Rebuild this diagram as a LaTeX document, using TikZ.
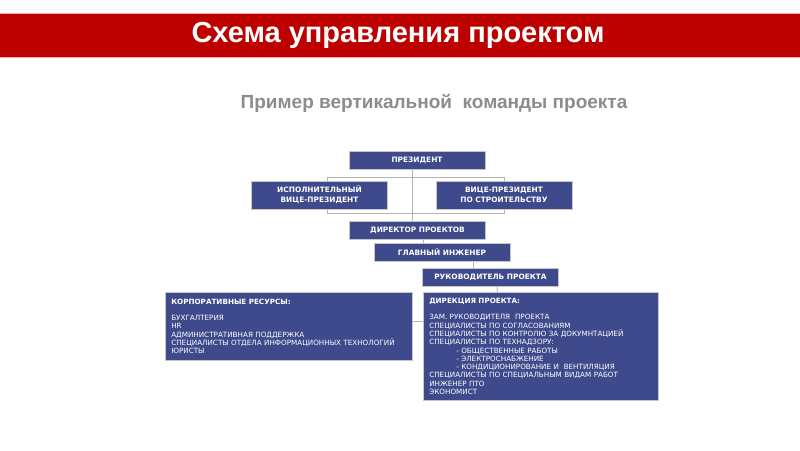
\documentclass[tikz,border=0pt]{standalone}
\usepackage{fontspec}
\usepackage{xcolor}
\usepackage{tikz}
\usetikzlibrary{positioning, backgrounds}
\newfontfamily\headfont{Liberation Sans}
\newfontfamily\boxfont{DejaVu Sans}
\definecolor{bannerred}{HTML}{BC0000}
\definecolor{boxblue}{HTML}{3E4A8C}
\definecolor{subgray}{HTML}{8C8C8C}
\definecolor{linkgray}{HTML}{B4B4B4}

\begin{document}
\begin{tikzpicture}[x=1pt, y=-1pt,
    role/.style  = {rectangle, draw=gray!45, line width=0.6pt, fill=boxblue,
                    text=white, align=center, inner sep=0pt,
                    minimum width=136pt, minimum height=18pt,
                    font=\boxfont\bfseries\fontsize{7.4}{10}\selectfont},
    team/.style  = {rectangle, draw=gray!45, line width=0.6pt, fill=boxblue,
                    text=white, align=left, anchor=north west,
                    inner xsep=6pt, inner ysep=4.5pt,
                    font=\boxfont\fontsize{7.2}{8.3}\selectfont},
    link/.style  = {draw=linkgray, line width=0.9pt},
    title/.style = {text=white, font=\headfont\bfseries\fontsize{29}{31}\selectfont},
    sub/.style   = {text=subgray, font=\headfont\bfseries\fontsize{19}{21}\selectfont}
  ]
  \useasboundingbox (0,0) rectangle (800,450);

  % Banner
  \fill[bannerred] (0,13) rectangle (800,57);
  \draw[red!35, line width=0.8pt] (0,13) -- (800,13) (0,57) -- (800,57);
  \node[title] (head) at (398,35) {Схема управления проектом};
  \node[sub]   (subhead) at (434,103) {Пример вертикальной\ \ команды проекта};

  % Top management
  \node[role] (president) at (417,160.5) {ПРЕЗИДЕНТ};
  \node[role, minimum height=28pt] (vpexec)  at (319.5,195) {ИСПОЛНИТЕЛЬНЫЙ\\ВИЦЕ-ПРЕЗИДЕНТ};
  \node[role, minimum height=28pt] (vpbuild) at (504,195)   {ВИЦЕ-ПРЕЗИДЕНТ\\ПО СТРОИТЕЛЬСТВУ};
  \node[role] (director)  at (417.5,230.5) {ДИРЕКТОР ПРОЕКТОВ};
  \node[role] (chiefeng)  at (442,252.5)   {ГЛАВНЫЙ ИНЖЕНЕР};
  \node[role] (manager)   at (490.5,277.5) {РУКОВОДИТЕЛЬ ПРОЕКТА};

  % Teams
  \node[team, minimum width=247pt, minimum height=68pt, text width=235pt] (corp) at (165,292)
    {\textbf{КОРПОРАТИВНЫЕ РЕСУРСЫ:}\\[8.3pt]
     БУХГАЛТЕРИЯ\\
     HR\\
     АДМИНИСТРАТИВНАЯ ПОДДЕРЖКА\\
     СПЕЦИАЛИСТЫ ОТДЕЛА ИНФОРМАЦИОННЫХ ТЕХНОЛОГИЙ\\
     ЮРИСТЫ};
  \node[team, minimum width=235pt, minimum height=108pt, text width=223pt] (direction) at (423,292)
    {\textbf{ДИРЕКЦИЯ ПРОЕКТА:}\\[8.3pt]
     ЗАМ. РУКОВОДИТЕЛЯ\ \ ПРОЕКТА\\
     СПЕЦИАЛИСТЫ ПО СОГЛАСОВАНИЯМ\\
     СПЕЦИАЛИСТЫ ПО КОНТРОЛЮ ЗА ДОКУМНТАЦИЕЙ\\
     СПЕЦИАЛИСТЫ ПО ТЕХНАДЗОРУ:\\
     \hspace*{27pt}- ОБЩЕСТВЕННЫЕ РАБОТЫ\\
     \hspace*{27pt}- ЭЛЕКТРОСНАБЖЕНИЕ\\
     \hspace*{27pt}- КОНДИЦИОНИРОВАНИЕ И\ \ ВЕНТИЛЯЦИЯ\\
     СПЕЦИАЛИСТЫ ПО СПЕЦИАЛЬНЫМ ВИДАМ РАБОТ\\
     ИНЖЕНЕР ПТО\\
     ЭКОНОМИСТ};

  % Connectors
  \begin{scope}[on background layer]
    \coordinate (frametl) at (327,177);
    \coordinate (framebr) at (504,213);
    \draw[link] (frametl) rectangle (framebr);
    \draw[link] ([xshift=-5pt]president.south) -- ([xshift=-5.5pt]director.north);
  \end{scope}
  \draw[link] ([xshift=5.5pt]director.south) -- ([xshift=-19pt]chiefeng.north);
  \draw[link] ([xshift=31pt]chiefeng.south)  -- ([xshift=-17.5pt]manager.north);
  \draw[link] ([xshift=6.5pt]manager.south)  -- ([xshift=-43.5pt]direction.north);
  \draw[link] ([yshift=5pt]corp.east) -- ([yshift=5pt]corp.east -| direction.west);
\end{tikzpicture}
\end{document}
